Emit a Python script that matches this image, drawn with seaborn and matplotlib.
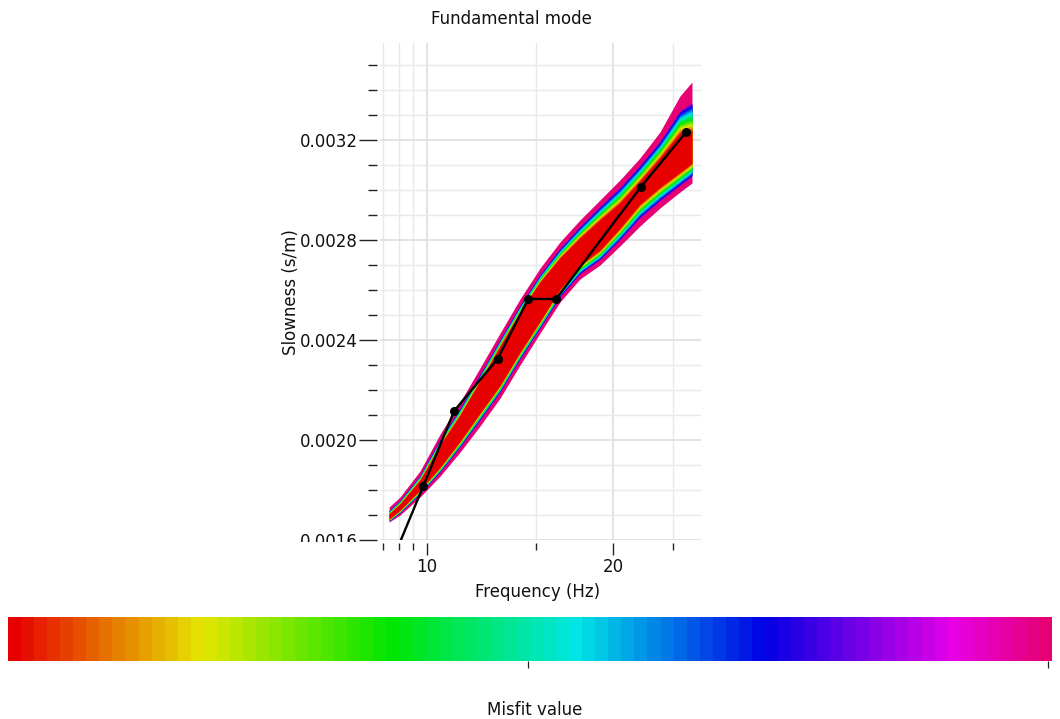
import numpy as np
import pandas as pd
import matplotlib
matplotlib.use("Agg")
import matplotlib.pyplot as plt
import matplotlib.colors as mcolors
from matplotlib.ticker import FixedLocator, FixedFormatter, NullFormatter, MultipleLocator
from matplotlib.transforms import Bbox
import seaborn as sns

# ---------------- data ----------------
# frequencies (Hz) at which the misfit band envelope was read
band_freq = [8.68, 9.04, 9.74, 10.50, 11.31, 12.18, 13.13, 14.14, 15.24,
             16.41, 17.68, 19.05, 20.52, 22.11, 23.82, 25.67, 26.84]
# outer envelope (worst misfit, pink)
band_outer_top = [0.001732, 0.001772, 0.001876, 0.002024, 0.002152, 0.002288,
                  0.002428, 0.002564, 0.002688, 0.002792, 0.002880, 0.002960,
                  0.003040, 0.003128, 0.003232, 0.003376, 0.003432]
band_outer_bot = [0.001672, 0.001700, 0.001772, 0.001856, 0.001952, 0.002056,
                  0.002168, 0.002300, 0.002428, 0.002552, 0.002644, 0.002700,
                  0.002776, 0.002856, 0.002928, 0.002992, 0.003028]
# inner edge of the pink layer
band_mid_top = [0.001718, 0.001758, 0.001858, 0.002002, 0.002126, 0.002262,
                0.002402, 0.002538, 0.002662, 0.002766, 0.002854, 0.002934,
                0.003010, 0.003098, 0.003194, 0.003316, 0.003348]
band_mid_bot = [0.001676, 0.001710, 0.001786, 0.001874, 0.001974, 0.002082,
                0.002194, 0.002326, 0.002450, 0.002574, 0.002666, 0.002722,
                0.002802, 0.002890, 0.002958, 0.003020, 0.003056]
# edge of the best-misfit (red) core
band_core_top = [0.001704, 0.001744, 0.001840, 0.001980, 0.002100, 0.002236,
                 0.002376, 0.002512, 0.002632, 0.002728, 0.002808, 0.002880,
                 0.002948, 0.003036, 0.003128, 0.003228, 0.003236]
band_core_bot = [0.001684, 0.001720, 0.001800, 0.001892, 0.001996, 0.002108,
                 0.002220, 0.002352, 0.002476, 0.002604, 0.002700, 0.002760,
                 0.002848, 0.002944, 0.003012, 0.003072, 0.003108]

# measured (target) dispersion curve
curve_freq = [8.78, 9.86, 11.06, 13.01, 14.58, 16.17, 22.20, 26.25]
curve_slow = [0.001516, 0.001816, 0.002116, 0.002325, 0.002564, 0.002564,
              0.003013, 0.003231]

y_major = [0.0016, 0.0020, 0.0024, 0.0028, 0.0032]
y_major_labels = ["0.0016", "0.0020", "0.0024", "0.0028", "0.0032"]
x_major = [10, 20]
x_major_labels = ["10", "20"]
x_minor = [8.5, 9, 9.5, 15, 25]
misfit_ticks = [0.5, 1.0]
misfit_range = [0.0, 1.004]

title = "Fundamental mode"
xlabel = "Frequency (Hz)"
ylabel = "Slowness (s/m)"
cbar_label = "Misfit value"

# ---------------- style ----------------
sns.set_theme(style="white")
plt.rcParams['font.family'] = ['DejaVu Sans']
plt.rcParams['font.size'] = 12

W, H = 1060, 719
fig = plt.figure(figsize=(W / 100, H / 100), dpi=100)
fig.patch.set_facecolor("white")

# misfit palette: hue from red (0) to pink (330 deg), discrete steps
n_col = 80
hues = np.linspace(0, 330 / 360, n_col)
pal = mcolors.hsv_to_rgb(np.stack([hues, np.ones(n_col), np.full(n_col, 0.9)], axis=1))
cmap = mcolors.ListedColormap(pal)
norm = mcolors.Normalize(vmin=misfit_range[0], vmax=misfit_range[1])

# ---------------- main axes ----------------
ax_l, ax_r, ax_t, ax_b = 380, 700.7, 43, 540
ax = fig.add_axes([ax_l / W, 1 - ax_b / H, (ax_r - ax_l) / W, (ax_b - ax_t) / H])
ax.set_facecolor("white")
ax.set_xscale("log")
ax.set_xlim(8.39, 27.73)
ax.set_ylim(0.0016, 0.003588)

f = np.array(band_freq)
ot, ob = np.array(band_outer_top), np.array(band_outer_bot)
mt, mb = np.array(band_mid_top), np.array(band_mid_bot)
ct, cb_ = np.array(band_core_top), np.array(band_core_bot)

# outer pink layer (worst misfits)
ax.fill_between(f, ob, ot, color=cmap(norm(1.0)), lw=0, zorder=2)
# graded layers from pink edge towards red core
n_lv = 16
for i in range(n_lv):
    frac = i / n_lv
    m = 0.80 * (1 - frac)
    up = mt + (ct - mt) * frac
    lo = mb + (cb_ - mb) * frac
    ax.fill_between(f, lo, up, color=cmap(norm(m)), lw=0, zorder=2)
ax.fill_between(f, cb_, ct, color=cmap(norm(0.0)), lw=0, zorder=2)

df = pd.DataFrame({"freq": curve_freq, "slow": curve_slow})
sns.lineplot(data=df, x="freq", y="slow", ax=ax, color="black", linewidth=1.7,
             marker="o", markersize=6.5, markeredgewidth=0, sort=False,
             estimator=None, zorder=4)
ax.set_xlabel("")
ax.set_ylabel("")

# ticks
for s in ax.spines.values():
    s.set_visible(False)
ax.spines['left'].set_position(('outward', 2.2))
ax.spines['bottom'].set_position(('outward', 2.2))

ax.xaxis.set_major_locator(FixedLocator(x_major))
ax.xaxis.set_major_formatter(FixedFormatter(x_major_labels))
ax.xaxis.set_minor_locator(FixedLocator(x_minor))
ax.xaxis.set_minor_formatter(NullFormatter())
ax.yaxis.set_major_locator(FixedLocator(y_major))
ax.yaxis.set_major_formatter(FixedFormatter(y_major_labels))
ax.yaxis.set_minor_locator(MultipleLocator(0.0001))

ax.tick_params(axis='y', which='major', direction='out', length=13, width=1.0,
               color='#222222', pad=0.5, labelsize=12, labelcolor='#111111', left=True)
ax.tick_params(axis='y', which='minor', direction='out', length=6.5, width=1.0,
               color='#222222', left=True)
ax.tick_params(axis='x', which='major', direction='out', length=8.6, width=1.0,
               color='#222222', pad=2, labelsize=12, labelcolor='#111111', bottom=True)
ax.tick_params(axis='x', which='minor', direction='out', length=5, width=1.0,
               color='#222222', bottom=True)

ax.set_axisbelow(True)
ax.grid(which='major', color='#e0e0e0', linewidth=1.3)
ax.grid(which='minor', color='#e9e9e9', linewidth=1.0)

# clip the lowest y label at the plot bottom, as in the reference
clip = Bbox.from_extents(0, H - 542, W, H)
for t in ax.yaxis.get_major_ticks():
    t.label1.set_clip_box(clip)
    t.label1.set_clip_on(True)

# texts
fig.text(511 / W, 1 - 19 / H, title, ha='center', va='center', fontsize=12, color='#111111')
fig.text(538 / W, 1 - 592 / H, xlabel, ha='center', va='center', fontsize=12, color='#111111')
fig.text(291 / W, 1 - 292 / H, ylabel, ha='center', va='center', rotation=90,
         fontsize=12, color='#111111')

# ---------------- colour bar ----------------
cax = fig.add_axes([8 / W, 1 - 661 / H, 1044 / W, 44 / H])
sm = plt.cm.ScalarMappable(norm=norm, cmap=cmap)
cbar = fig.colorbar(sm, cax=cax, orientation='horizontal')
cbar.outline.set_visible(False)
cbar.set_ticks(misfit_ticks)
cbar.ax.set_xticklabels([""] * len(misfit_ticks))
cbar.ax.tick_params(axis='x', which='major', direction='out', length=5, width=0.9,
                    color='#222222', bottom=True)
cbar.ax.minorticks_off()
fig.text(535 / W, 1 - 710 / H, cbar_label, ha='center', va='center', fontsize=12, color='#111111')

fig.savefig("out.png", dpi=100, facecolor="white")
